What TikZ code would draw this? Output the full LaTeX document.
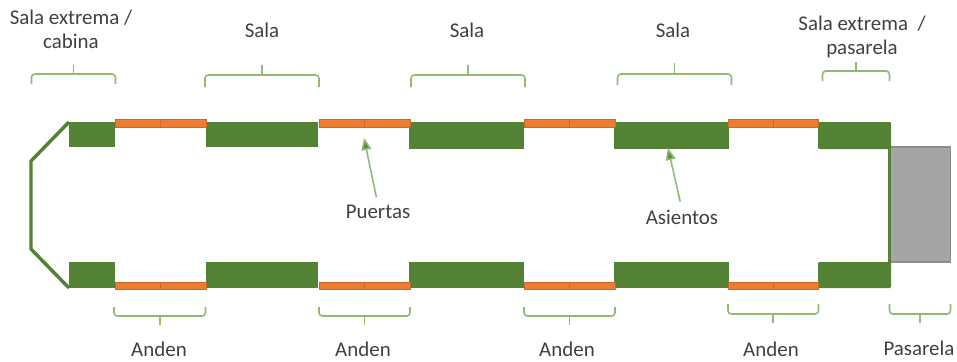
\documentclass[tikz,border=0pt]{standalone}
\usepackage{fontspec}
\setmainfont{Carlito}
\usetikzlibrary{arrows.meta}
\definecolor{seatg}{HTML}{548235}
\definecolor{doorf}{HTML}{ED7D31}
\definecolor{doore}{HTML}{C8682A}
\definecolor{brk}{HTML}{8FBB75}
\definecolor{gbox}{HTML}{A5A5A5}
\definecolor{gedge}{HTML}{8C8C8C}
\definecolor{txt}{HTML}{404040}
\tikzset{
  x=0.75pt,y=-0.75pt,
  brace/.style={draw=brk,line width=1.2pt,rounded corners=2.5pt},
  lbl/.style={text=txt,font=\fontsize{15.7pt}{18pt}\selectfont,align=center,inner sep=0pt},
  pointer/.style={draw=brk,line width=1.2pt,-{Triangle[length=9pt,width=7.5pt,fill=seatg!85!brk]}},
  hull/.style={draw=seatg,line width=2.6pt,line join=round}
}
\newcommand{\doorpair}[5]{\draw[fill=doorf,draw=doore,line width=0.7pt] (#2,#4) rectangle (#3,#5); \draw[draw=doore,line width=0.7pt] ({(#2+#3)/2},#4) -- ({(#2+#3)/2},#5); \coordinate (#1) at ({(#2+#3)/2},#5);}
\newcommand{\bracetop}[5]{\draw[brace] (#1,#3) -- (#1,#4) -- (#2,#4) -- (#2,#3); \draw[brace,rounded corners=0pt] ({(#1+#2)/2},#4) -- ({(#1+#2)/2},#5);}
\begin{document}
\begin{tikzpicture}
\useasboundingbox (0,0) rectangle (957,361);
% gangway
\draw[fill=gbox,draw=gedge,line width=0.8pt] (890,147) rectangle (950.5,262);
% hull
\draw[hull] (69,122) -- (31,161) -- (31,249) -- (69,288);
\draw[hull] (889.5,140) -- (889.5,270);
% seats
\fill[seatg] (69,122) rectangle (115,147);
\fill[seatg] (206,122) rectangle (318,147);
\fill[seatg] (409,122) rectangle (524,149);
\fill[seatg] (614,122) rectangle (729,149);
\fill[seatg,rounded corners=0.8pt] (818,122) rectangle (891,149);
\fill[seatg] (69,262) rectangle (115,288);
\fill[seatg] (206,262) rectangle (318,288);
\fill[seatg] (409,262) rectangle (524,288);
\fill[seatg] (614,262) rectangle (729,288);
\fill[seatg,rounded corners=0.8pt] (818,262) rectangle (891,288);
% doors
\doorpair{dt1}{115}{206}{119.5}{127}
\doorpair{dt2}{319}{410}{119.5}{127}
\doorpair{dt3}{524}{615}{119.5}{127}
\doorpair{dt4}{728}{818}{119.5}{127}
\doorpair{db1}{115}{206}{282}{289.5}
\doorpair{db2}{319}{410}{282}{289.5}
\doorpair{db3}{524}{615}{282}{289.5}
\doorpair{db4}{728}{818}{282}{289.5}
% braces
\bracetop{31.5}{115.5}{84}{74}{65}
\bracetop{205}{319}{87}{75}{65}
\bracetop{411}{525}{87}{75}{65}
\bracetop{617.5}{731.5}{85}{74}{63}
\bracetop{822.5}{889.5}{81}{71}{62}
\bracetop{114}{205.5}{307}{316}{325}
\bracetop{319}{410}{307}{316}{325}
\bracetop{524}{615}{307}{316}{325}
\bracetop{728}{818.5}{304}{314}{323}
\bracetop{889.5}{950.5}{304}{314}{323}
% labels
\node[lbl] (l1) at (71,29) {Sala extrema /\\cabina};
\node[lbl] (l2) at (262,30) {Sala};
\node[lbl] (l3) at (467,30) {Sala};
\node[lbl] (l4) at (673,30) {Sala};
\node[lbl] (l5) at (862,37) {Sala extrema\ \ /\\pasarela};
\node[lbl] (a1) at (159,349) {Anden};
\node[lbl] (a2) at (363,349) {Anden};
\node[lbl] (a3) at (567,349) {Anden};
\node[lbl] (a4) at (771,349) {Anden};
\node[lbl] (a5) at (919,348) {Pasarela};
\node[lbl] (pu) at (378,212) {Puertas};
\node[lbl] (as) at (682,217) {Asientos};
% pointers
\coordinate (pe) at (364,138);
\coordinate (se) at (668,148);
\draw[pointer,shorten <=6pt] (pu.north) -- (pe);
\draw[pointer,shorten <=6pt] (as.north) -- (se);
\end{tikzpicture}
\end{document}
